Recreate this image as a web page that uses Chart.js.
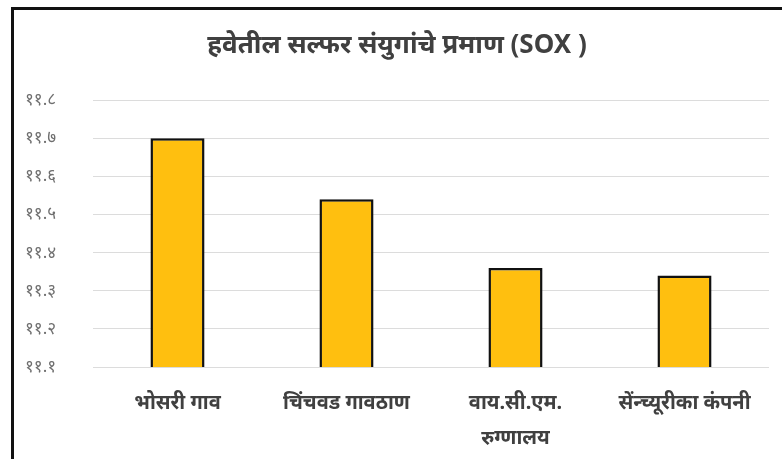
<!DOCTYPE html>
<html>
<head>
    <title>SOX</title>
    <script src="https://cdn.jsdelivr.net/npm/chart.js"></script>
    <style>
        body {
            margin: 0;
            background-color: #ffffff;
            overflow: hidden;
        }
        #frame {
            position: absolute;
            left: 11px;
            top: 7px;
            width: 800px;
            height: 480px;
            border-left: 3px solid #111;
            border-top: 3px solid #111;
        }
        #chart-container {
            position: absolute;
            left: 0;
            top: 0;
            width: 782px;
            height: 459px;
        }
    </style>
</head>
<body>

<div id="frame"></div>
<div id="chart-container">
    <canvas id="soxChart" width="782" height="459"></canvas>
</div>

<script>
// values
const categories = [
    'भोसरी गाव',
    'चिंचवड गावठाण',
    ['वाय.सी.एम.', 'रुग्णालय'],
    'सेंन्च्यूरीका कंपनी'
];
const soxValues = [11.70, 11.54, 11.36, 11.34];

const yTickValues = [11.1, 11.2, 11.3, 11.4, 11.5, 11.6, 11.7, 11.8];
const yTickLabels = ['११.१', '११.२', '११.३', '११.४', '११.५', '११.६', '११.७', '११.८'];

const fontFamily = "'Noto Sans', 'Noto Sans Devanagari', sans-serif";

const ctx = document.getElementById('soxChart').getContext('2d');
new Chart(ctx, {
    type: 'bar',
    data: {
        labels: categories,
        datasets: [{
            label: 'SOX',
            data: soxValues,
            backgroundColor: '#FFBF0F',
            borderColor: '#111111',
            borderWidth: 2.5,
            borderSkipped: 'bottom',
            categoryPercentage: 0.8,
            barPercentage: 0.4
        }]
    },
    options: {
        responsive: false,
        animation: false,
        layout: {
            padding: { left: 25, right: 13, top: 30, bottom: 3 }
        },
        plugins: {
            legend: { display: false },
            tooltip: { enabled: false },
            title: {
                display: true,
                text: 'हवेतील सल्फर संयुगांचे प्रमाण (SOX )',
                color: '#404040',
                font: { family: fontFamily, size: 26, weight: 'bold', lineHeight: 1.2 },
                padding: { top: 0, bottom: 39 }
            }
        },
        scales: {
            x: {
                grid: { display: false },
                border: { display: false },
                afterFit: function (scale) { scale.height = 89; },
                ticks: {
                    color: '#404040',
                    padding: 11,
                    maxRotation: 0,
                    autoSkip: false,
                    font: { family: fontFamily, size: 20, weight: 'bold', lineHeight: 1.75 }
                }
            },
            y: {
                min: 11.1,
                max: 11.8,
                grid: { color: '#dcdcdc', lineWidth: 1, drawTicks: false },
                border: { display: false },
                afterFit: function (scale) { scale.width = 68; },
                ticks: {
                    stepSize: 0.1,
                    crossAlign: 'far',
                    color: '#6f6f6f',
                    font: { family: fontFamily, size: 17 },
                    callback: function (value) {
                        let idx = yTickValues.findIndex(v => Math.abs(v - value) < 0.001);
                        return idx >= 0 ? yTickLabels[idx] : '';
                    }
                }
            }
        }
    }
});
</script>

</body>
</html>
